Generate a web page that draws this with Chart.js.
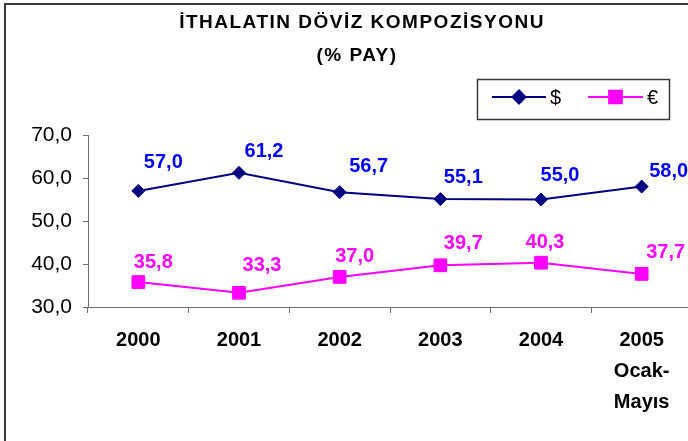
<!DOCTYPE html>
<html><head><meta charset="utf-8">
<script src="https://cdn.jsdelivr.net/npm/chart.js@4/dist/chart.umd.min.js"></script>
<style>
html,body{margin:0;padding:0;overflow:hidden;background:#fff;width:688px;height:441px;}
#wrap{position:absolute;left:0;top:0;width:720px;height:441px;}
</style></head><body>
<div id="wrap"><canvas id="c" width="720" height="441"></canvas></div>
<script>
const categories = [['2000'], ['2001'], ['2002'], ['2003'], ['2004'], ['2005', 'Ocak-', 'Mayıs']];
const usdValues = [57.0, 61.2, 56.7, 55.1, 55.0, 58.0];
const eurValues = [35.8, 33.3, 37.0, 39.7, 40.3, 37.7];
const seriesNames = ['$', '€'];
const titleLines = ['İTHALATIN DÖVİZ KOMPOZİSYONU', '(% PAY)'];
const yMin = 30, yMax = 70, yStep = 10;

// label placement (styling only)
const usdLabelOffsets = [[25, -28], [25, -21], [29, -26], [23, -22], [19, -24], [27, -15]];
const eurLabelOffsets = [[15, -20], [23, -27], [15, -20], [23, -22], [4, -20], [24, -21]];

const FONT = '"Liberation Sans", Arial, sans-serif';
const fmt = v => Number(v).toFixed(1).replace('.', ',');

const frame = {
  id: 'frame',
  beforeDraw(chart) {
    const ctx = chart.ctx;
    ctx.save();
    ctx.fillStyle = '#fff';
    ctx.fillRect(0, 0, chart.width, chart.height);
    ctx.strokeStyle = '#3a3a3a';
    ctx.lineWidth = 2;
    ctx.strokeRect(5, 4, 706, 480);
    ctx.restore();
  },
  afterDraw(chart) {
    const ctx = chart.ctx;
    ctx.save();
    // title
    ctx.fillStyle = '#000';
    ctx.font = 'bold 19px ' + FONT;
    ctx.textAlign = 'center';
    ctx.textBaseline = 'middle';
    try { ctx.letterSpacing = '1.5px'; } catch (e) {}
    ctx.fillText(titleLines[0], 362, 23);
    ctx.fillText(titleLines[1], 357, 56);
    try { ctx.letterSpacing = '0px'; } catch (e) {}
    // legend
    ctx.strokeStyle = '#3a3a3a';
    ctx.lineWidth = 1.5;
    ctx.strokeRect(477.5, 79.5, 192, 40);
    const ds = chart.data.datasets;
    const items = [{x0: 492, x1: 546, tx: 550}, {x0: 588, x1: 643, tx: 647}];
    items.forEach((it, i) => {
      const d = ds[i];
      const y = 97;
      ctx.strokeStyle = d.borderColor;
      ctx.lineWidth = 2;
      ctx.beginPath(); ctx.moveTo(it.x0, y); ctx.lineTo(it.x1, y); ctx.stroke();
      Chart.helpers.drawPoint(ctx, {pointStyle: d.pointStyle, radius: d.pointRadius, borderWidth: 1, rotation: 0},
        (it.x0 + it.x1) / 2, y);
      ctx.fillStyle = d.pointBackgroundColor;
      ctx.fill();
      ctx.fillStyle = '#000';
      ctx.font = '20px ' + FONT;
      ctx.textAlign = 'left';
      ctx.textBaseline = 'middle';
      ctx.fillText(d.label, it.tx, y + 1);
    });
    ctx.restore();
  },
  afterDatasetsDraw(chart) {
    const ctx = chart.ctx;
    ctx.save();
    ctx.font = 'bold 20px ' + FONT;
    ctx.textAlign = 'center';
    ctx.textBaseline = 'middle';
    const offs = [usdLabelOffsets, eurLabelOffsets];
    const cols = ['#0000FF', '#FF00FF'];
    chart.data.datasets.forEach((d, i) => {
      const meta = chart.getDatasetMeta(i);
      ctx.fillStyle = cols[i];
      meta.data.forEach((pt, j) => {
        ctx.fillText(fmt(d.data[j]), pt.x + offs[i][j][0], pt.y + offs[i][j][1]);
      });
    });
    ctx.restore();
  }
};

new Chart(document.getElementById('c'), {
  type: 'line',
  data: {
    labels: categories,
    datasets: [
      {
        label: seriesNames[0], data: usdValues,
        borderColor: '#000080', backgroundColor: '#000080',
        pointBackgroundColor: '#000080', pointBorderColor: '#000080',
        borderWidth: 2, pointStyle: 'rectRot', pointRadius: 6.5, pointBorderWidth: 1,
        tension: 0
      },
      {
        label: seriesNames[1], data: eurValues,
        borderColor: '#FF00FF', backgroundColor: '#FF00FF',
        pointBackgroundColor: '#FF00FF', pointBorderColor: '#FF00FF',
        borderWidth: 2, pointStyle: 'rect', pointRadius: 9, pointBorderWidth: 1,
        tension: 0
      }
    ]
  },
  options: {
    responsive: false,
    animation: false,
    events: [],
    layout: {padding: {top: 135, right: 28, left: 0, bottom: 0}},
    plugins: {legend: {display: false}, title: {display: false}, tooltip: {enabled: false}},
    scales: {
      x: {
        offset: true,
        grid: {offset: true, drawOnChartArea: false, drawTicks: true, tickLength: 6, color: '#6e6e6e', lineWidth: 1},
        border: {display: true, color: '#6e6e6e', width: 1},
        ticks: {color: '#000', font: {family: FONT, size: 20, weight: 'bold', lineHeight: 1.55}, padding: 12, maxRotation: 0, autoSkip: false},
        afterFit(s) { s.height = 134; }
      },
      y: {
        min: yMin, max: yMax,
        grid: {drawOnChartArea: false, drawTicks: true, tickLength: 5, color: '#6e6e6e'},
        border: {display: true, color: '#6e6e6e', width: 1},
        ticks: {stepSize: yStep, color: '#000', font: {family: FONT, size: 21}, padding: 11, callback: v => fmt(v)},
        afterFit(s) { s.width = 88; }
      }
    }
  },
  plugins: [frame]
});
</script>
</body></html>
